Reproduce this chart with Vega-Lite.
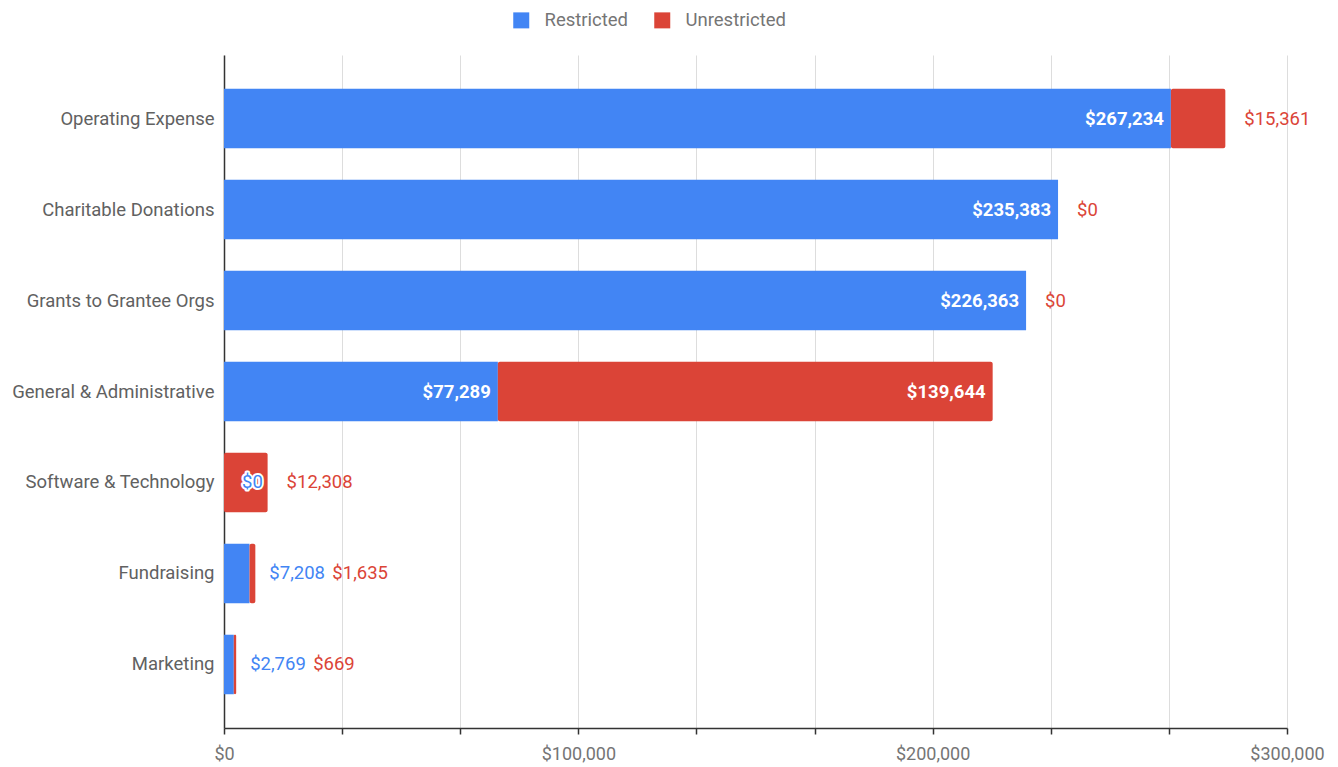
{
  "$schema": "https://vega.github.io/schema/vega-lite/v6.json",
  "width": 1063,
  "height": 673,
  "autosize": {"type": "none"},
  "padding": {"left": 224, "top": 55, "right": 51, "bottom": 39},
  "background": "white",
  "config": {
    "font": "Roboto",
    "view": {"stroke": null},
    "text": {"font": "Roboto", "fontSize": 18.5}
  },
  "data": {
    "values": [
      {"category": "Operating Expense", "Restricted": 267234, "Unrestricted": 15361},
      {"category": "Charitable Donations", "Restricted": 235383, "Unrestricted": 0},
      {"category": "Grants to Grantee Orgs", "Restricted": 226363, "Unrestricted": 0},
      {"category": "General & Administrative", "Restricted": 77289, "Unrestricted": 139644},
      {"category": "Software & Technology", "Restricted": 0, "Unrestricted": 12308},
      {"category": "Fundraising", "Restricted": 7208, "Unrestricted": 1635},
      {"category": "Marketing", "Restricted": 2769, "Unrestricted": 669}
    ]
  },
  "transform": [
    {"fold": ["Restricted", "Unrestricted"], "as": ["type", "amount"]},
    {"stack": "amount", "groupby": ["category"], "sort": [{"field": "type", "order": "ascending"}], "as": ["x0", "x1"]},
    {"joinaggregate": [{"op": "sum", "field": "amount", "as": "total"}], "groupby": ["category"]}
  ],
  "encoding": {
    "y": {
      "field": "category",
      "type": "nominal",
      "sort": null,
      "scale": {"paddingInner": 0.346, "paddingOuter": 0.371},
      "axis": {
        "title": null,
        "ticks": false,
        "labelPadding": 10,
        "labelFontSize": 18.5,
        "labelLimit": 0,
        "labelColor": "#616161",
        "labelFont": "Roboto",
        "domainColor": "#333333",
        "domainWidth": 1.5,
        "grid": false
      }
    }
  },
  "layer": [
    {
      "transform": [{"filter": "datum.type == 'Restricted'"}],
      "mark": {"type": "bar"},
      "encoding": {
        "x": {
          "field": "x0",
          "type": "quantitative",
          "scale": {"domain": [0, 300000], "nice": false},
          "axis": {
            "title": null,
            "values": [0, 33333.333, 66666.667, 100000, 133333.333, 166666.667, 200000, 233333.333, 266666.667, 300000],
            "labelExpr": "datum.value % 100000 == 0 ? '$' + format(datum.value, ',') : ''",
            "labelFlush": false,
            "grid": true,
            "gridColor": "#dddddd",
            "domainColor": "#333333",
            "domainWidth": 1.5,
            "tickColor": "#333333",
            "tickSize": 6,
            "tickWidth": 1.5,
            "labelFontSize": 18,
            "labelColor": "#757575",
            "labelFont": "Roboto",
            "labelPadding": 11
          }
        },
        "x2": {"field": "x1"},
        "color": {
          "field": "type",
          "type": "nominal",
          "scale": {"domain": ["Restricted", "Unrestricted"], "range": ["#4285F4", "#DB4437"]},
          "legend": {
            "title": null,
            "orient": "none",
            "direction": "horizontal",
            "legendX": 288,
            "legendY": -44,
            "symbolType": "square",
            "symbolSize": 256,
            "symbolStrokeWidth": 0,
            "symbolOpacity": 1,
            "labelFontSize": 18.5,
            "labelColor": "#757575",
            "labelFont": "Roboto",
            "labelOffset": 14,
            "columnPadding": 24
          }
        }
      }
    },
    {
      "transform": [{"filter": "datum.type == 'Unrestricted'"}],
      "mark": {"type": "bar", "cornerRadiusEnd": 2},
      "encoding": {
        "x": {"field": "x0", "type": "quantitative"},
        "x2": {"field": "x1"},
        "color": {"field": "type", "type": "nominal"}
      }
    },
    {
      "transform": [{"filter": "datum.amount >= 20000"}],
      "mark": {"type": "text", "align": "right", "baseline": "middle", "dx": -7, "color": "white", "fontWeight": "bold"},
      "encoding": {
        "x": {"field": "x1", "type": "quantitative"},
        "text": {"field": "amount", "type": "quantitative", "format": "$,"}
      }
    },
    {
      "transform": [{"filter": "datum.type == 'Restricted' && datum.amount > 0 && datum.amount < 20000"}],
      "mark": {"type": "text", "align": "left", "baseline": "middle", "dx": 14, "color": "#4285F4"},
      "encoding": {
        "x": {"field": "total", "type": "quantitative"},
        "text": {"field": "amount", "type": "quantitative", "format": "$,"}
      }
    },
    {
      "transform": [{"filter": "datum.type == 'Restricted' && datum.amount == 0 && datum.Unrestricted > 0"}],
      "mark": {"type": "text", "align": "left", "baseline": "middle", "dx": 18, "color": "white", "stroke": "white", "strokeWidth": 4, "strokeJoin": "round"},
      "encoding": {
        "x": {"field": "x1", "type": "quantitative"},
        "text": {"field": "amount", "type": "quantitative", "format": "$,"}
      }
    },
    {
      "transform": [{"filter": "datum.type == 'Restricted' && datum.amount == 0 && datum.Unrestricted > 0"}],
      "mark": {"type": "text", "align": "left", "baseline": "middle", "dx": 18, "color": "#4285F4"},
      "encoding": {
        "x": {"field": "x1", "type": "quantitative"},
        "text": {"field": "amount", "type": "quantitative", "format": "$,"}
      }
    },
    {
      "transform": [{"filter": "datum.type == 'Unrestricted' && datum.amount < 20000 && (datum.Restricted >= 20000 || datum.Restricted == 0)"}],
      "mark": {"type": "text", "align": "left", "baseline": "middle", "dx": 19, "color": "#DB4437"},
      "encoding": {
        "x": {"field": "total", "type": "quantitative"},
        "text": {"field": "amount", "type": "quantitative", "format": "$,"}
      }
    },
    {
      "transform": [{"filter": "datum.type == 'Unrestricted' && datum.amount < 20000 && datum.Restricted > 0 && datum.Restricted < 20000"}],
      "mark": {"type": "text", "align": "left", "baseline": "middle", "dx": 77, "color": "#DB4437"},
      "encoding": {
        "x": {"field": "total", "type": "quantitative"},
        "text": {"field": "amount", "type": "quantitative", "format": "$,"}
      }
    }
  ]
}
